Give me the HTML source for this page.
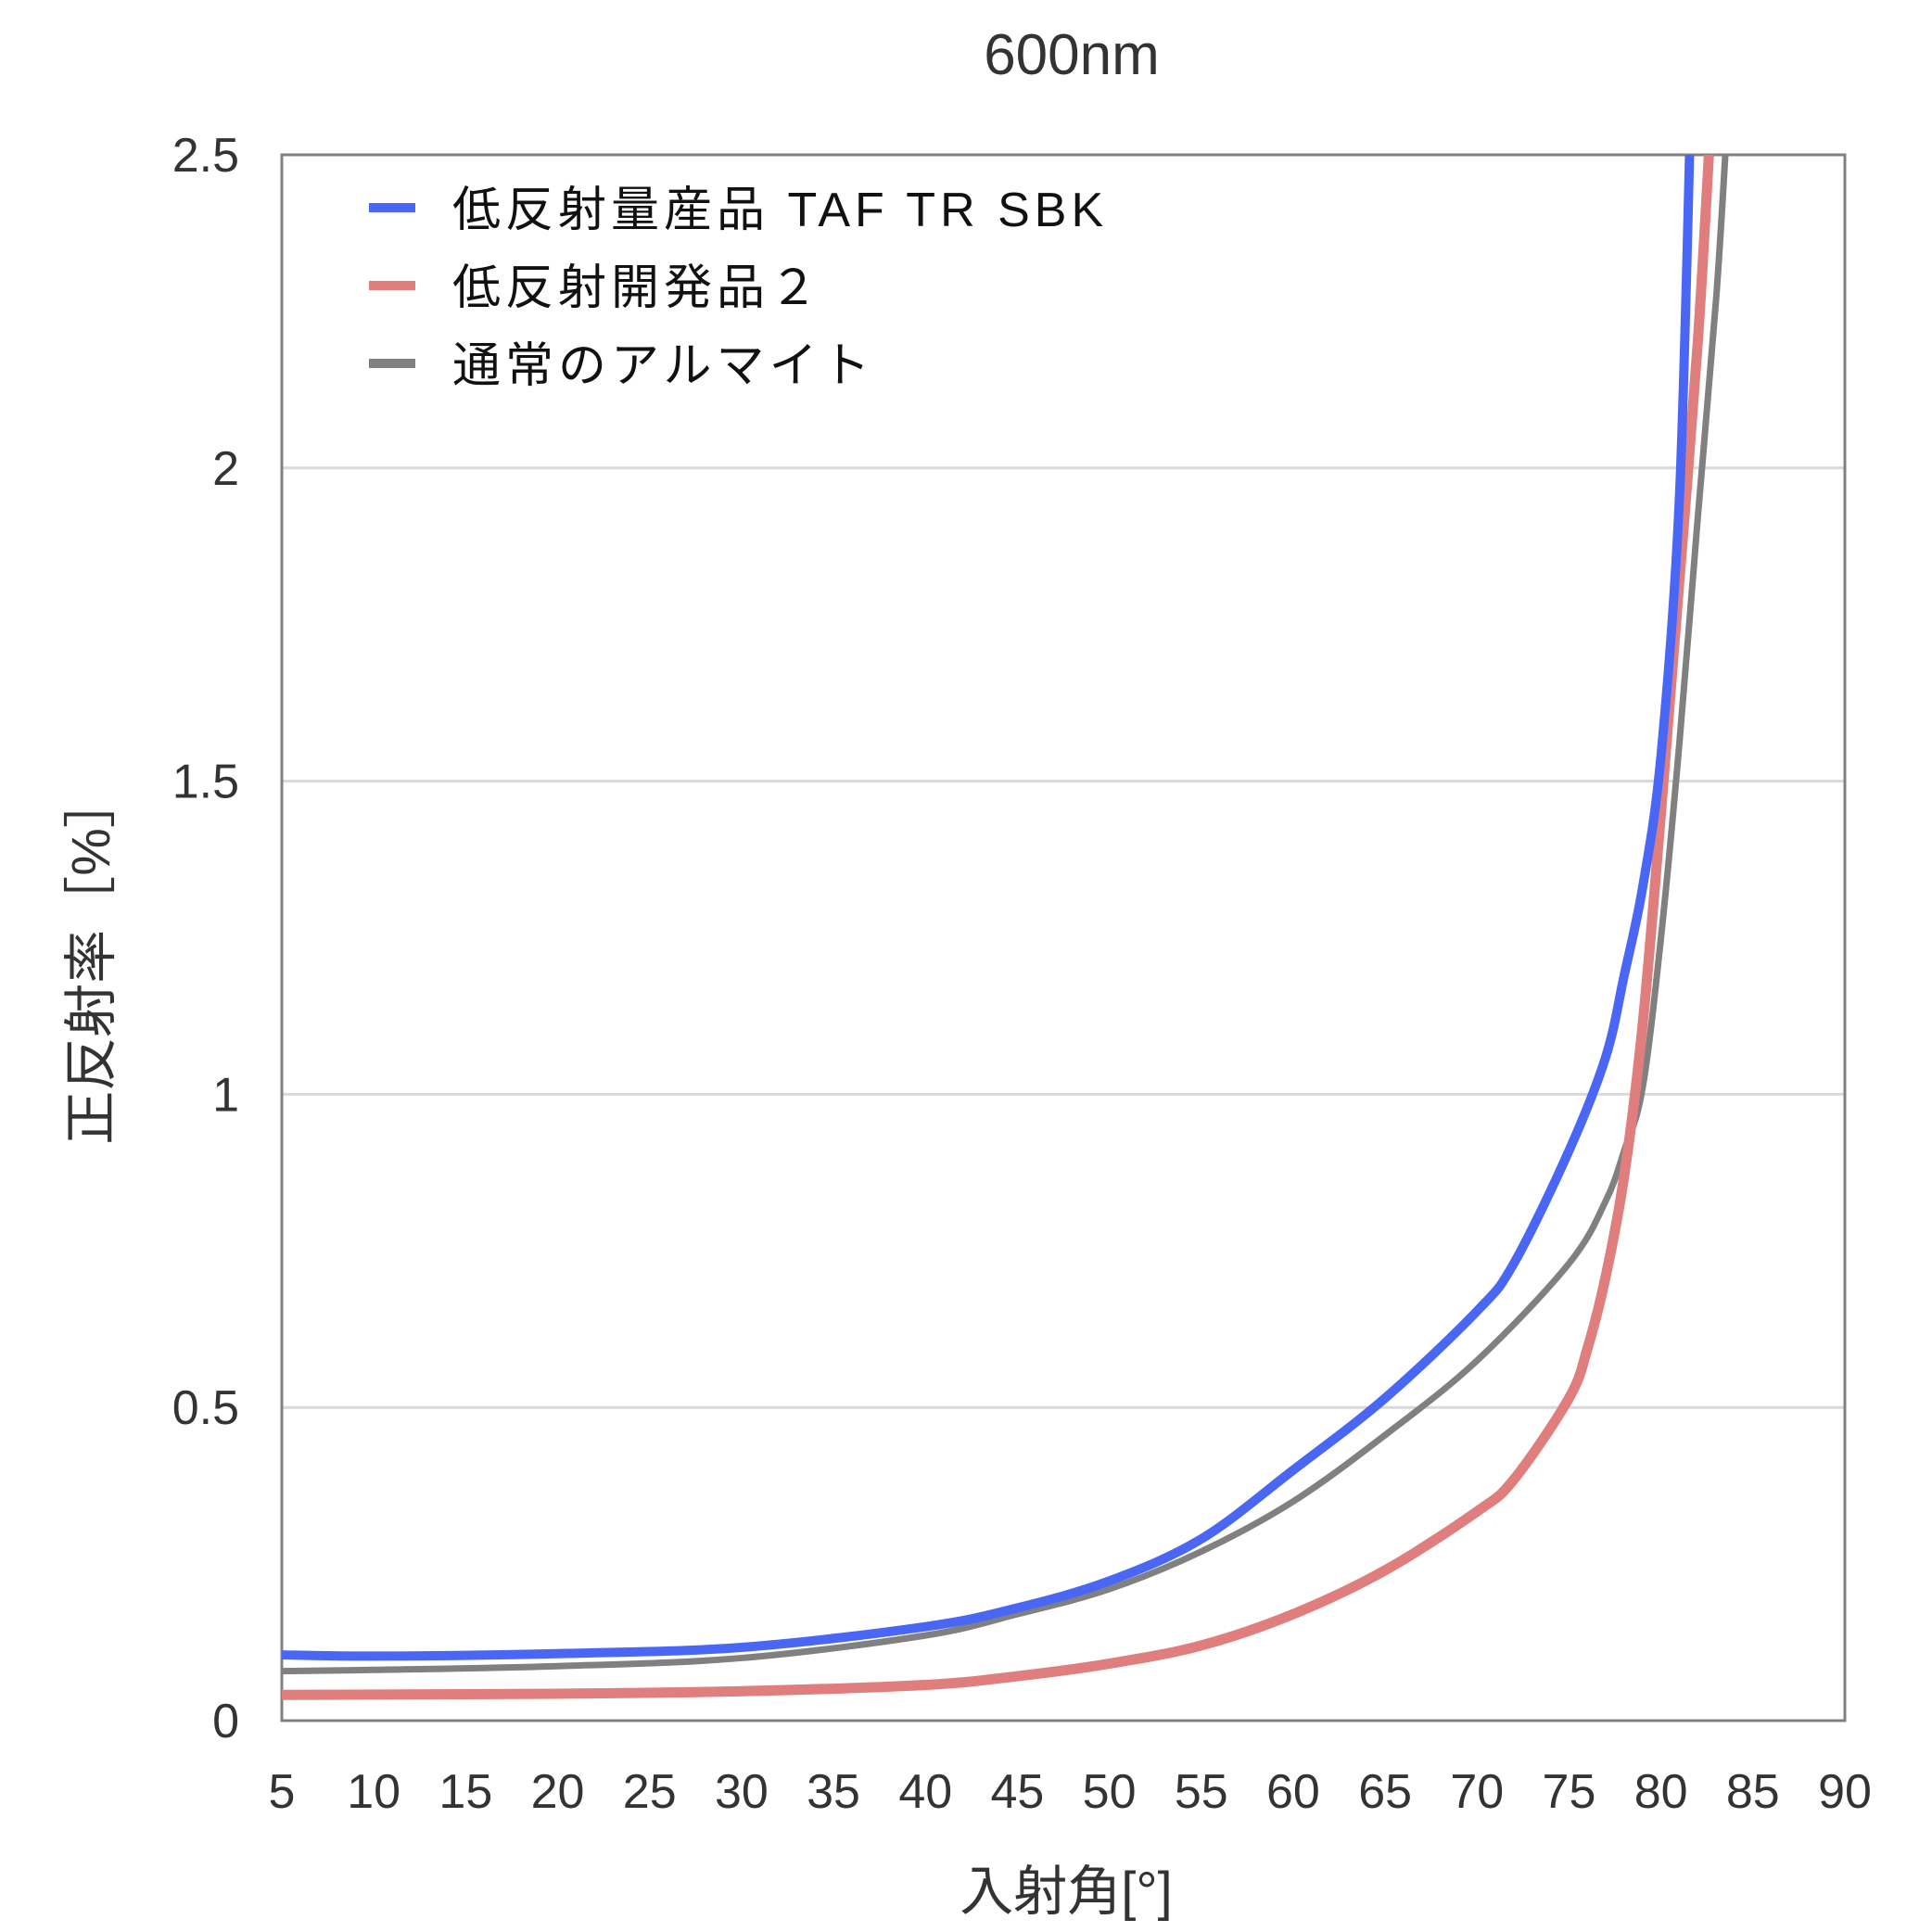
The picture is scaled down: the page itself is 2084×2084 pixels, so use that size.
<!DOCTYPE html>
<html><head><meta charset="utf-8"><style>
html,body{margin:0;padding:0;background:#fff;}
svg{display:block;font-family:"Liberation Sans","Noto Sans CJK JP",sans-serif;}
</style></head><body>
<svg id="chart" width="2084" height="2084" viewBox="0 0 2084 2084">
<defs><clipPath id="plotclip"><rect x="304" y="167" width="1686" height="1689"/></clipPath></defs>
<text x="1156" y="80" text-anchor="middle" font-size="62" fill="#333">600nm</text>
<g id="grid"></g>
<rect x="304" y="167" width="1686" height="1689" fill="none" stroke="#808080" stroke-width="3"/>
<g id="yticks"></g>
<g id="xticks"></g>
<g id="series" clip-path="url(#plotclip)"></g>
<text x="1150" y="2060" text-anchor="middle" font-size="58" fill="#333">入射角[°]</text>
<text transform="translate(118,1035) rotate(-90)" text-anchor="middle" font-size="58" fill="#333">正反射率［%］</text>
<g>
<rect x="398" y="219" width="50" height="10" fill="#4a66f5"/>
<text x="488" y="244" font-size="52" letter-spacing="5" fill="#111">低反射量産品 TAF TR SBK</text>
<rect x="398" y="303" width="50" height="10" fill="#e07d7d"/>
<text x="488" y="328" font-size="52" letter-spacing="5" fill="#111">低反射開発品２</text>
<rect x="398" y="387" width="50" height="10" fill="#808080"/>
<text x="488" y="412" font-size="52" letter-spacing="5" fill="#111">通常のアルマイト</text>
</g>
</svg>
<script>
const xTicks = [5,10,15,20,25,30,35,40,45,50,55,60,65,70,75,80,85,90];
const yTicks = [0,0.5,1,1.5,2,2.5];
const yTickLabels = ["0","0.5","1","1.5","2","2.5"];
const blueX = [5,10,20,30,40,45,50,55,60,65,70,72,75,77,78,79,80,81,81.6];
const blueY = [0.105,0.103,0.107,0.117,0.15,0.18,0.223,0.29,0.40,0.515,0.654,0.73,0.91,1.06,1.19,1.33,1.54,1.95,2.55];
const redX = [5,20,30,40,45,50,55,60,65,70,72,75,76,77,78,79,80,81,82,82.7];
const redY = [0.041,0.043,0.047,0.057,0.071,0.091,0.12,0.17,0.24,0.334,0.385,0.515,0.594,0.71,0.87,1.11,1.45,1.82,2.2,2.55];
const grayX = [5,10,20,30,40,45,50,55,60,65,70,75,77,78,79,80,81,82,83,83.6];
const grayY = [0.079,0.081,0.087,0.10,0.136,0.17,0.21,0.27,0.35,0.456,0.575,0.73,0.83,0.91,1.01,1.25,1.56,1.92,2.27,2.55];
const L=304,R=1990,T=167,B=1856;
const xs = v => L + (v-5)/(90-5)*(R-L);
const ys = v => B - v/2.5*(B-T);
const NS="http://www.w3.org/2000/svg";
const grid=document.getElementById('grid');
yTicks.forEach((t,i)=>{
  if(t>0 && t<2.5){
    const ln=document.createElementNS(NS,'line');
    ln.setAttribute('x1',L);ln.setAttribute('x2',R);ln.setAttribute('y1',ys(t));ln.setAttribute('y2',ys(t));
    ln.setAttribute('stroke','#d9d9d9');ln.setAttribute('stroke-width','3');
    
    
    grid.appendChild(ln);
  }
  const tx=document.createElementNS(NS,'text');
  tx.setAttribute('x',258);tx.setAttribute('y',ys(t)+18);tx.setAttribute('text-anchor','end');
  tx.setAttribute('font-size','52');tx.setAttribute('fill','#333');
  tx.textContent=yTickLabels[i];
  
  
  document.getElementById('yticks').appendChild(tx);
});
xTicks.forEach(t=>{
  const tx=document.createElementNS(NS,'text');
  tx.setAttribute('x',xs(t));tx.setAttribute('y',1950);tx.setAttribute('text-anchor','middle');
  tx.setAttribute('font-size','52');tx.setAttribute('fill','#333');
  tx.textContent=String(t);
  
  
  document.getElementById('xticks').appendChild(tx);
});
function smoothPath(X,Y){
  const p=X.map((x,i)=>[xs(x),ys(Y[i])]);
  let d='M'+p[0][0]+','+p[0][1];
  for(let i=0;i<p.length-1;i++){
    const p0=p[Math.max(0,i-1)],p1=p[i],p2=p[i+1],p3=p[Math.min(p.length-1,i+2)];
    const c1=[p1[0]+(p2[0]-p0[0])/6,p1[1]+(p2[1]-p0[1])/6];
    const c2=[p2[0]-(p3[0]-p1[0])/6,p2[1]-(p3[1]-p1[1])/6];
    d+=' C'+c1+' '+c2+' '+p2;
  }
  return d;
}
const ser=document.getElementById('series');
function addSeries(X,Y,color,w,name){
  const pa=document.createElementNS(NS,'path');
  pa.setAttribute('d',smoothPath(X,Y));
  pa.setAttribute('fill','none');pa.setAttribute('stroke',color);pa.setAttribute('stroke-width',w);
  pa.setAttribute('stroke-linejoin','round');
  
  
  ser.appendChild(pa);
}
addSeries(grayX,grayY,'#808080',7,'line-alumite');
addSeries(redX,redY,'#e07d7d',11,'line-dev2');
addSeries(blueX,blueY,'#4a66f5',10,'line-taf');
</script>
</body></html>
